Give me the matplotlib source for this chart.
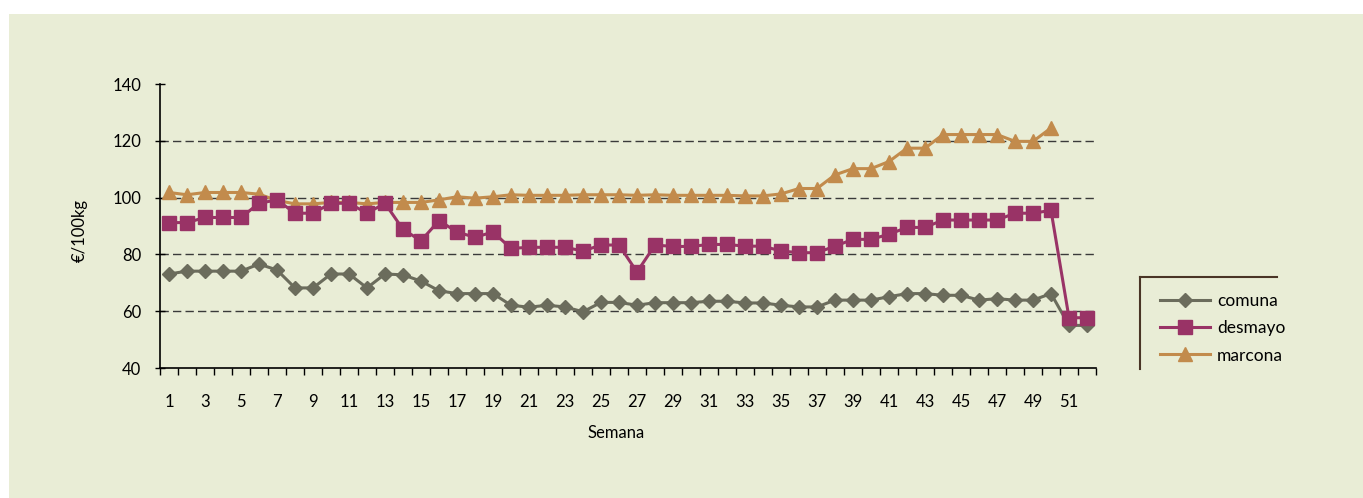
import numpy as np
import matplotlib.pyplot as plt
from matplotlib.lines import Line2D
from matplotlib.ticker import FixedLocator

plt.rcParams['font.family'] = ['Lato', 'DejaVu Sans']

weeks = np.arange(1, 53)
tick_weeks = list(range(1, 52, 2))

comuna = [73.1, 74.1, 74.1, 74.1, 74.1, 76.6, 74.5, 68.2, 68.2, 73.1,
          73.1, 68.2, 73.1, 72.8, 70.6, 67.2, 66.2, 66.2, 66.2, 62.1,
          61.4, 62.1, 61.5, 59.8, 63.1, 63.1, 62.1, 63.0, 63.0, 63.0,
          63.5, 63.5, 62.9, 62.9, 62.1, 61.5, 61.5, 63.9, 63.9, 63.9,
          65.1, 66.2, 66.2, 65.6, 65.6, 63.9, 64.4, 63.9, 63.9, 66.2,
          55.0, 55.0]
desmayo = [91.2, 91.2, 93.0, 93.0, 93.0, 98.0, 99.2, 94.5, 94.5, 98.0,
           98.0, 94.5, 98.0, 88.8, 84.8, 91.9, 87.9, 86.0, 87.9, 82.1,
           82.5, 82.5, 82.5, 81.2, 83.3, 83.3, 73.8, 83.3, 82.8, 82.8,
           83.5, 83.5, 82.9, 82.9, 81.2, 80.6, 80.6, 82.9, 85.3, 85.3,
           87.1, 89.5, 89.5, 92.1, 92.1, 92.1, 92.1, 94.5, 94.5, 95.5,
           57.7, 57.7]
marcona = [101.8, 101.0, 101.8, 101.8, 101.8, 101.2, 99.0, 97.8, 97.8, 98.3,
           98.3, 97.8, 98.3, 98.3, 98.3, 99.2, 100.3, 99.8, 100.3, 101.0,
           100.8, 100.8, 100.8, 101.0, 101.0, 101.0, 100.8, 101.0, 100.8, 100.8,
           100.8, 100.8, 100.6, 100.6, 101.3, 103.2, 103.2, 108.0, 110.2, 110.2,
           112.7, 117.4, 117.4, 122.2, 122.2, 122.2, 122.2, 119.8, 119.8, 124.5,
           np.nan, np.nan]

W, H = 1363, 498
bg = '#E9EDD6'
fig = plt.figure(figsize=(W / 100, H / 100), dpi=100, facecolor='white')
# beige panel behind everything
fig.patches.append(plt.Rectangle((9 / W, 0), 1 - 9 / W, (H - 14) / H,
                                 transform=fig.transFigure, facecolor=bg,
                                 edgecolor='none', zorder=-10))

ax = fig.add_axes([160 / W, (H - 368) / H, 936 / W, 284 / H])
ax.set_facecolor(bg)

ax.plot(weeks, comuna, color='#6B6C5C', lw=2.2, marker='D', ms=7.5,
        label='comuna', zorder=3)
ax.plot(weeks, desmayo, color='#993366', lw=2.2, marker='s', ms=9.5,
        label='desmayo', zorder=4)
ax.plot(weeks, marcona, color='#C28B4C', lw=2.2, marker='^', ms=9.5,
        label='marcona', zorder=2)

ax.set_xlim(0.5, 52.5)
ax.set_ylim(40, 140)
ax.set_yticks([40, 60, 80, 100, 120, 140])
ax.set_xticks(tick_weeks)
ax.set_xticklabels([str(w) for w in tick_weeks])
ax.xaxis.set_minor_locator(FixedLocator(np.arange(0.5, 53, 1)))
ax.tick_params(axis='x', which='major', length=0, pad=19, labelsize=12)
ax.tick_params(axis='x', which='minor', length=5, width=1, direction='out')
ax.tick_params(axis='y', length=7, width=1, direction='inout', pad=10,
               labelsize=12)

for s in ['top', 'right']:
    ax.spines[s].set_visible(False)
for s in ['left', 'bottom']:
    ax.spines[s].set_color('black')
    ax.spines[s].set_linewidth(1.2)

for y in [60, 80, 100, 120]:
    ax.axhline(y, color='#3A3A3A', lw=1, dashes=(6, 3), zorder=1)

fig.text(80 / W, 1 - 230 / H, '€/100kg', rotation=90, ha='center',
         va='center', fontsize=12)
fig.text(616 / W, 1 - 433 / H, 'Semana', ha='center', va='center',
         fontsize=12)

leg = fig.legend(loc='upper left', bbox_to_anchor=(1153 / W, 1 - 286 / H),
                 frameon=False, fontsize=12.5, handlelength=2.9,
                 labelspacing=0.65, handletextpad=0.4, borderaxespad=0)
fig.add_artist(Line2D([1140 / W, 1140 / W], [1 - 277 / H, 1 - 369 / H],
                      color='#4A3526', lw=1.5, transform=fig.transFigure))
fig.add_artist(Line2D([1140 / W, 1277 / W], [1 - 277 / H, 1 - 277 / H],
                      color='#4A3526', lw=1.5, transform=fig.transFigure))

plt.savefig('out.png', dpi=100)
